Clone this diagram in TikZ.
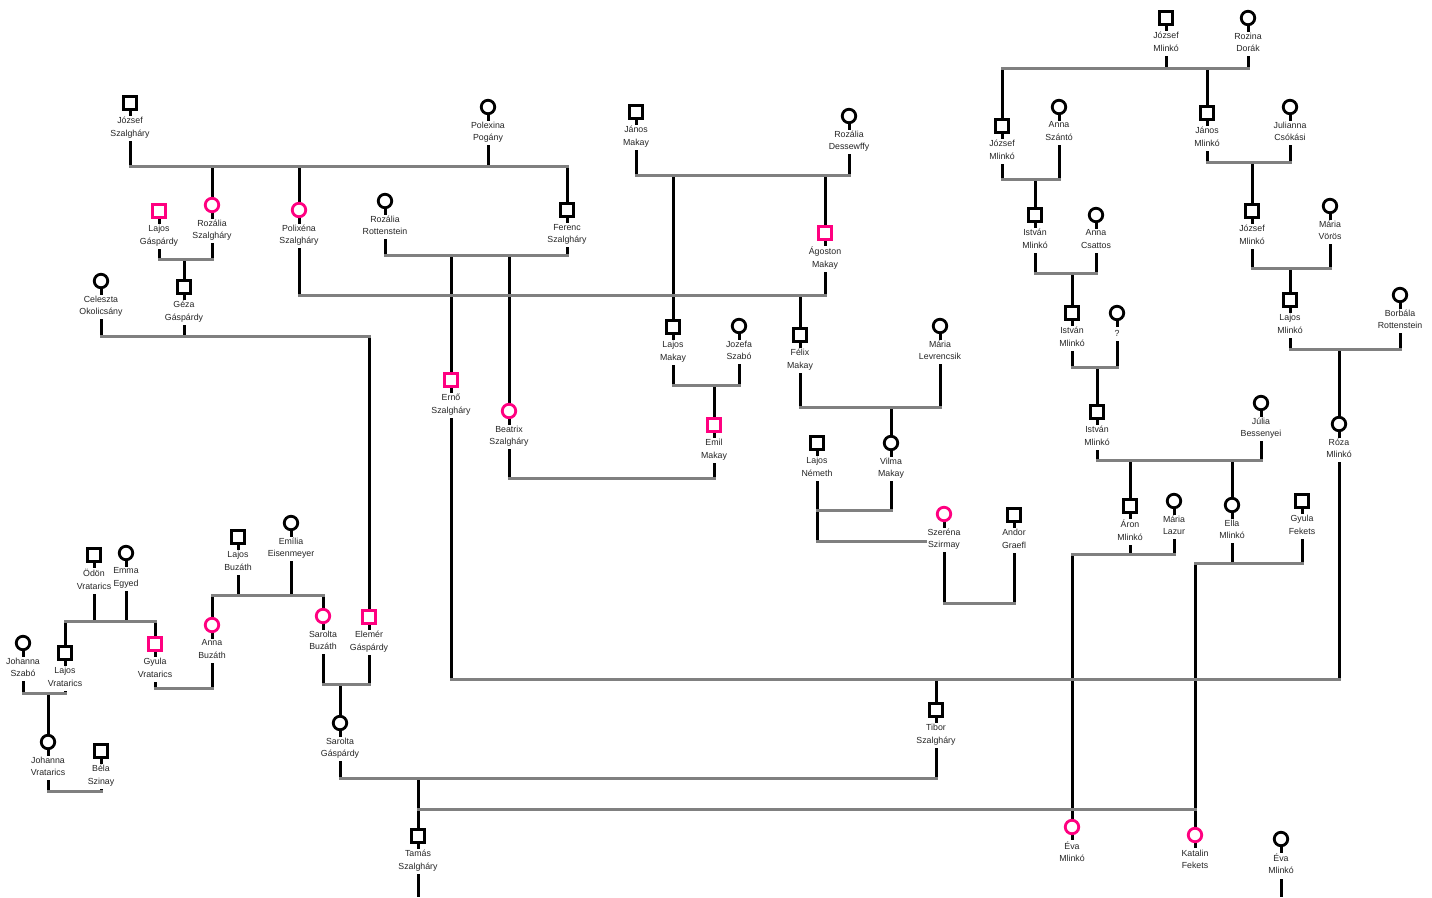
\documentclass[tikz,border=0pt]{standalone}
\usepackage{fontspec}
\setmainfont{Liberation Sans}
\usepackage{xcolor}
\usepackage{tikz}
\usetikzlibrary{positioning, backgrounds}
\definecolor{markpink}{RGB}{255,0,128}
\definecolor{uniongray}{RGB}{128,128,128}

\begin{document}
\begin{tikzpicture}[
    x=1pt, y=-1pt,
    node distance=5.3pt,
    person/.style={draw, line width=2.8pt, fill=white, inner sep=0pt},
    male/.style={person, rectangle, minimum size=12.5pt},
    female/.style={person, circle, minimum size=13.5pt},
    marked/.style={draw=markpink},
    nametag/.style={fill=white, inner sep=1pt, align=center, text=black!85,
        font=\fontsize{8.8}{12.5}\selectfont, execute at begin node=\strut},
    descent/.style={line width=3pt, black},
    union/.style={line width=3pt, uniongray, line cap=rect}
]
\useasboundingbox (0,0) rectangle (1432,897);

% Szalgháry and Makay branch
\node[male] (jozsefSz) at (130,103) {};
\node[nametag, below=of jozsefSz] (jozsefSzL) {József\\Szalgháry};
\node[female] (polexina) at (488,107) {};
\node[nametag, below=of polexina] (polexinaL) {Polexina\\Pogány};
\node[male, marked] (lajosGa) at (159,211) {};
\node[nametag, below=of lajosGa] (lajosGaL) {Lajos\\Gáspárdy};
\node[female, marked] (rozaliaSz) at (212,205) {};
\node[nametag, below=of rozaliaSz] (rozaliaSzL) {Rozália\\Szalgháry};
\node[female, marked] (polixena) at (299,210) {};
\node[nametag, below=of polixena] (polixenaL) {Polixéna\\Szalgháry};
\node[female] (rozaliaRo) at (385,201) {};
\node[nametag, below=of rozaliaRo] (rozaliaRoL) {Rozália\\Rottenstein};
\node[male] (ferencSz) at (567,210) {};
\node[nametag, below=of ferencSz] (ferencSzL) {Ferenc\\Szalgháry};
\node[male] (janosMa) at (636,112) {};
\node[nametag, below=of janosMa] (janosMaL) {János\\Makay};
\node[female] (rozaliaDe) at (849,116) {};
\node[nametag, below=of rozaliaDe] (rozaliaDeL) {Rozália\\Dessewffy};
\node[male, marked] (agoston) at (825,233) {};
\node[nametag, below=of agoston] (agostonL) {Ágoston\\Makay};
\node[female] (celeszta) at (101,281) {};
\node[nametag, below=of celeszta] (celesztaL) {Celeszta\\Okolicsány};
\node[male] (geza) at (184,287) {};
\node[nametag, below=of geza] (gezaL) {Géza\\Gáspárdy};
\node[male] (lajosMa) at (673,327) {};
\node[nametag, below=of lajosMa] (lajosMaL) {Lajos\\Makay};
\node[female] (jozefa) at (739,326) {};
\node[nametag, below=of jozefa] (jozefaL) {Jozefa\\Szabó};
\node[male] (felix) at (800,335) {};
\node[nametag, below=of felix] (felixL) {Félix\\Makay};
\node[female] (mariaLe) at (940,326) {};
\node[nametag, below=of mariaLe] (mariaLeL) {Mária\\Levrencsik};
\node[male, marked] (erno) at (451,380) {};
\node[nametag, below=of erno] (ernoL) {Ernő\\Szalgháry};
\node[female, marked] (beatrix) at (509,411) {};
\node[nametag, below=of beatrix] (beatrixL) {Beatrix\\Szalgháry};
\node[male, marked] (emil) at (714,425) {};
\node[nametag, below=of emil] (emilL) {Emil\\Makay};
\node[male] (lajosNe) at (817,443) {};
\node[nametag, below=of lajosNe] (lajosNeL) {Lajos\\Németh};
\node[female] (vilma) at (891,443) {};
\node[nametag, below=of vilma] (vilmaL) {Vilma\\Makay};
\node[female, marked] (szerena) at (944,514) {};
\node[nametag, below=of szerena] (szerenaL) {Szeréna\\Szirmay};
\node[male] (andor) at (1014,515) {};
\node[nametag, below=of andor] (andorL) {Andor\\Graefl};

% Mlinkó branch
\node[male] (jozsefMl1) at (1166,18) {};
\node[nametag, below=of jozsefMl1] (jozsefMl1L) {József\\Mlinkó};
\node[female] (rozina) at (1248,18) {};
\node[nametag, below=of rozina] (rozinaL) {Rozina\\Dorák};
\node[male] (jozsefMl2) at (1002,126) {};
\node[nametag, below=of jozsefMl2] (jozsefMl2L) {József\\Mlinkó};
\node[female] (annaSza) at (1059,107) {};
\node[nametag, below=of annaSza] (annaSzaL) {Anna\\Szántó};
\node[male] (janosMl) at (1207,113) {};
\node[nametag, below=of janosMl] (janosMlL) {János\\Mlinkó};
\node[female] (julianna) at (1290,107) {};
\node[nametag, below=of julianna] (juliannaL) {Julianna\\Csókási};
\node[male] (istvan1) at (1035,215) {};
\node[nametag, below=of istvan1] (istvan1L) {István\\Mlinkó};
\node[female] (annaCs) at (1096,215) {};
\node[nametag, below=of annaCs] (annaCsL) {Anna\\Csattos};
\node[male] (jozsefMl3) at (1252,211) {};
\node[nametag, below=of jozsefMl3] (jozsefMl3L) {József\\Mlinkó};
\node[female] (mariaVo) at (1330,206) {};
\node[nametag, below=of mariaVo] (mariaVoL) {Mária\\Vörös};
\node[male] (istvan2) at (1072,313) {};
\node[nametag, below=of istvan2] (istvan2L) {István\\Mlinkó};
\node[female] (unknown) at (1117,313) {};
\node[nametag, below=of unknown] (unknownL) {?};
\node[male] (lajosMl) at (1290,300) {};
\node[nametag, below=of lajosMl] (lajosMlL) {Lajos\\Mlinkó};
\node[female] (borbala) at (1400,295) {};
\node[nametag, below=of borbala] (borbalaL) {Borbála\\Rottenstein};
\node[male] (istvan3) at (1097,412) {};
\node[nametag, below=of istvan3] (istvan3L) {István\\Mlinkó};
\node[female] (julia) at (1261,403) {};
\node[nametag, below=of julia] (juliaL) {Júlia\\Bessenyei};
\node[female] (roza) at (1339,424) {};
\node[nametag, below=of roza] (rozaL) {Róza\\Mlinkó};
\node[male] (aron) at (1130,506) {};
\node[nametag, below=of aron] (aronL) {Áron\\Mlinkó};
\node[female] (mariaLa) at (1174,501) {};
\node[nametag, below=of mariaLa] (mariaLaL) {Mária\\Lazur};
\node[female] (ella) at (1232,505) {};
\node[nametag, below=of ella] (ellaL) {Ella\\Mlinkó};
\node[male] (gyulaFe) at (1302,501) {};
\node[nametag, below=of gyulaFe] (gyulaFeL) {Gyula\\Fekets};

% Vratarics and Buzáth branch
\node[male] (odon) at (94,555) {};
\node[nametag, below=of odon] (odonL) {Ödön\\Vratarics};
\node[female] (emma) at (126,553) {};
\node[nametag, below=of emma] (emmaL) {Emma\\Egyed};
\node[male] (lajosBu) at (238,537) {};
\node[nametag, below=of lajosBu] (lajosBuL) {Lajos\\Buzáth};
\node[female] (emilia) at (291,523) {};
\node[nametag, below=of emilia] (emiliaL) {Emília\\Eisenmeyer};
\node[female] (johannaSz) at (23,643) {};
\node[nametag, below=of johannaSz] (johannaSzL) {Johanna\\Szabó};
\node[male] (lajosVr) at (65,653) {};
\node[nametag, below=of lajosVr] (lajosVrL) {Lajos\\Vratarics};
\node[male, marked] (gyulaVr) at (155,644) {};
\node[nametag, below=of gyulaVr] (gyulaVrL) {Gyula\\Vratarics};
\node[female, marked] (annaBu) at (212,625) {};
\node[nametag, below=of annaBu] (annaBuL) {Anna\\Buzáth};
\node[female, marked] (saroltaBu) at (323,616) {};
\node[nametag, below=of saroltaBu] (saroltaBuL) {Sarolta\\Buzáth};
\node[male, marked] (elemer) at (369,617) {};
\node[nametag, below=of elemer] (elemerL) {Elemér\\Gáspárdy};
\node[female] (johannaVr) at (48,742) {};
\node[nametag, below=of johannaVr] (johannaVrL) {Johanna\\Vratarics};
\node[male] (bela) at (101,751) {};
\node[nametag, below=of bela] (belaL) {Béla\\Szinay};
\node[female] (saroltaGa) at (340,723) {};
\node[nametag, below=of saroltaGa] (saroltaGaL) {Sarolta\\Gáspárdy};

% Last generation
\node[male] (tibor) at (936,710) {};
\node[nametag, below=of tibor] (tiborL) {Tibor\\Szalgháry};
\node[male] (tamas) at (418,836) {};
\node[nametag, below=of tamas] (tamasL) {Tamás\\Szalgháry};
\node[female, marked] (eva1) at (1072,827) {};
\node[nametag, below=of eva1] (eva1L) {Éva\\Mlinkó};
\node[female, marked] (katalin) at (1195,835) {};
\node[nametag, below=of katalin] (katalinL) {Katalin\\Fekets};
\node[female] (eva2) at (1281,839) {};
\node[nametag, below=of eva2] (eva2L) {Éva\\Mlinkó};

% Levels of the family lines
\coordinate (mSzalghary) at (0,166);
\coordinate (mGaspardy) at (0,259);
\coordinate (mGeza) at (0,336);
\coordinate (mFerenc) at (0,255);
\coordinate (mMakay) at (0,175);
\coordinate (mAgoston) at (0,295);
\coordinate (mLajosMa) at (0,385);
\coordinate (mFelix) at (0,407);
\coordinate (mBeatrix) at (0,478);
\coordinate (mVilma) at (0,510);
\coordinate (mSzerena1) at (0,541);
\coordinate (mSzerena2) at (0,603);
\coordinate (mErno) at (0,679);
\coordinate (mTibor) at (0,778);
\coordinate (mTamas) at (0,809);
\coordinate (mMlinko) at (0,68);
\coordinate (mJozsefMl) at (0,179);
\coordinate (mIstvan1) at (0,273);
\coordinate (mIstvan2) at (0,367);
\coordinate (mIstvan3) at (0,460);
\coordinate (mAron) at (0,554);
\coordinate (mElla) at (0,563);
\coordinate (mJanosMl) at (0,162);
\coordinate (mJozsefMl3) at (0,268);
\coordinate (mLajosMl) at (0,349);
\coordinate (mOdon) at (0,621);
\coordinate (mLajosVr) at (0,693);
\coordinate (mJohanna) at (0,791);
\coordinate (mBuzath) at (0,595);
\coordinate (mGyulaVr) at (0,688);
\coordinate (mElemer) at (0,684);
\coordinate (bottom) at (0,897);

\begin{scope}[on background layer]
% Descent lines
\draw[descent] (jozsefSz) -- (jozsefSz |- mSzalghary) (polexina) -- (polexina |- mSzalghary)
    (rozaliaSz) -- (rozaliaSz |- mSzalghary) (polixena) -- (polixena |- mSzalghary)
    (ferencSz) -- (ferencSz |- mSzalghary);
\draw[descent] (lajosGa) -- (lajosGa |- mGaspardy) (rozaliaSz) -- (rozaliaSz |- mGaspardy)
    (geza) -- (geza |- mGaspardy);
\draw[descent] (celeszta) -- (celeszta |- mGeza) (geza) -- (geza |- mGeza) (elemer) -- (elemer |- mGeza);
\draw[descent] (rozaliaRo) -- (rozaliaRo |- mFerenc) (ferencSz) -- (ferencSz |- mFerenc)
    (erno) -- (erno |- mFerenc) (beatrix) -- (beatrix |- mFerenc);
\draw[descent] (janosMa) -- (janosMa |- mMakay) (rozaliaDe) -- (rozaliaDe |- mMakay)
    (lajosMa) -- (lajosMa |- mMakay) (agoston) -- (agoston |- mMakay);
\draw[descent] (polixena) -- (polixena |- mAgoston) (agoston) -- (agoston |- mAgoston)
    (felix) -- (felix |- mAgoston);
\draw[descent] (lajosMa) -- (lajosMa |- mLajosMa) (jozefa) -- (jozefa |- mLajosMa) (emil) -- (emil |- mLajosMa);
\draw[descent] (felix) -- (felix |- mFelix) (mariaLe) -- (mariaLe |- mFelix) (vilma) -- (vilma |- mFelix);
\draw[descent] (beatrix) -- (beatrix |- mBeatrix) (emil) -- (emil |- mBeatrix);
\draw[descent] (vilma) -- (vilma |- mVilma) (lajosNe) -- (lajosNe |- mSzerena1);
\draw[descent] (szerena) -- (szerena |- mSzerena2) (andor) -- (andor |- mSzerena2);
\draw[descent] (erno) -- (erno |- mErno) (roza) -- (roza |- mErno) (tibor) -- (tibor |- mErno);
\draw[descent] (saroltaGa) -- (saroltaGa |- mTibor) (tibor) -- (tibor |- mTibor) (tamas) -- (tamas |- mTibor);
\draw[descent] (jozsefMl1) -- (jozsefMl1 |- mMlinko) (rozina) -- (rozina |- mMlinko)
    (jozsefMl2) -- (jozsefMl2 |- mMlinko) (janosMl) -- (janosMl |- mMlinko);
\draw[descent] (jozsefMl2) -- (jozsefMl2 |- mJozsefMl) (annaSza) -- (annaSza |- mJozsefMl)
    (istvan1) -- (istvan1 |- mJozsefMl);
\draw[descent] (istvan1) -- (istvan1 |- mIstvan1) (annaCs) -- (annaCs |- mIstvan1) (istvan2) -- (istvan2 |- mIstvan1);
\draw[descent] (istvan2) -- (istvan2 |- mIstvan2) (unknown) -- (unknown |- mIstvan2) (istvan3) -- (istvan3 |- mIstvan2);
\draw[descent] (istvan3) -- (istvan3 |- mIstvan3) (julia) -- (julia |- mIstvan3)
    (aron) -- (aron |- mIstvan3) (ella) -- (ella |- mIstvan3);
\draw[descent] (aron) -- (aron |- mAron) (mariaLa) -- (mariaLa |- mAron) (eva1) -- (eva1 |- mAron);
\draw[descent] (ella) -- (ella |- mElla) (gyulaFe) -- (gyulaFe |- mElla) (katalin) -- (katalin |- mElla);
\draw[descent] (janosMl) -- (janosMl |- mJanosMl) (julianna) -- (julianna |- mJanosMl)
    (jozsefMl3) -- (jozsefMl3 |- mJanosMl);
\draw[descent] (jozsefMl3) -- (jozsefMl3 |- mJozsefMl3) (mariaVo) -- (mariaVo |- mJozsefMl3)
    (lajosMl) -- (lajosMl |- mJozsefMl3);
\draw[descent] (lajosMl) -- (lajosMl |- mLajosMl) (borbala) -- (borbala |- mLajosMl) (roza) -- (roza |- mLajosMl);
\draw[descent] (odon) -- (odon |- mOdon) (emma) -- (emma |- mOdon)
    (lajosVr) -- (lajosVr |- mOdon) (gyulaVr) -- (gyulaVr |- mOdon);
\draw[descent] (johannaSz) -- (johannaSz |- mLajosVr) (lajosVr) -- (lajosVr |- mLajosVr)
    (johannaVr) -- (johannaVr |- mLajosVr);
\draw[descent] (johannaVr) -- (johannaVr |- mJohanna) (bela) -- (bela |- mJohanna);
\draw[descent] (lajosBu) -- (lajosBu |- mBuzath) (emilia) -- (emilia |- mBuzath)
    (annaBu) -- (annaBu |- mBuzath) (saroltaBu) -- (saroltaBu |- mBuzath);
\draw[descent] (gyulaVr) -- (gyulaVr |- mGyulaVr) (annaBu) -- (annaBu |- mGyulaVr);
\draw[descent] (saroltaBu) -- (saroltaBu |- mElemer) (elemer) -- (elemer |- mElemer)
    (saroltaGa) -- (saroltaGa |- mElemer);
\draw[descent] (tamas) -- (tamas |- bottom) (eva2) -- (eva2 |- bottom);
\draw[descent] (eva1) -- (eva1L) (katalin) -- (katalinL);

% Union lines
\draw[union] (jozsefSz |- mSzalghary) -- (ferencSz |- mSzalghary);
\draw[union] (lajosGa |- mGaspardy) -- (rozaliaSz |- mGaspardy);
\draw[union] (celeszta |- mGeza) -- (elemer |- mGeza);
\draw[union] (rozaliaRo |- mFerenc) -- (ferencSz |- mFerenc);
\draw[union] (janosMa |- mMakay) -- (rozaliaDe |- mMakay);
\draw[union] (polixena |- mAgoston) -- (agoston |- mAgoston);
\draw[union] (lajosMa |- mLajosMa) -- (jozefa |- mLajosMa);
\draw[union] (felix |- mFelix) -- (mariaLe |- mFelix);
\draw[union] (beatrix |- mBeatrix) -- (emil |- mBeatrix);
\draw[union] (lajosNe |- mVilma) -- (vilma |- mVilma);
\draw[union] (lajosNe |- mSzerena1) -- (szerena |- mSzerena1);
\draw[union] (szerena |- mSzerena2) -- (andor |- mSzerena2);
\draw[union] (erno |- mErno) -- (roza |- mErno);
\draw[union] (saroltaGa |- mTibor) -- (tibor |- mTibor);
\draw[union] (tamas |- mTamas) -- (katalin |- mTamas);
\draw[union] (jozsefMl2 |- mMlinko) -- (rozina |- mMlinko);
\draw[union] (jozsefMl2 |- mJozsefMl) -- (annaSza |- mJozsefMl);
\draw[union] (istvan1 |- mIstvan1) -- (annaCs |- mIstvan1);
\draw[union] (istvan2 |- mIstvan2) -- (unknown |- mIstvan2);
\draw[union] (istvan3 |- mIstvan3) -- (julia |- mIstvan3);
\draw[union] (eva1 |- mAron) -- (mariaLa |- mAron);
\draw[union] (katalin |- mElla) -- (gyulaFe |- mElla);
\draw[union] (janosMl |- mJanosMl) -- (julianna |- mJanosMl);
\draw[union] (jozsefMl3 |- mJozsefMl3) -- (mariaVo |- mJozsefMl3);
\draw[union] (lajosMl |- mLajosMl) -- (borbala |- mLajosMl);
\draw[union] (lajosVr |- mOdon) -- (gyulaVr |- mOdon);
\draw[union] (johannaSz |- mLajosVr) -- (lajosVr |- mLajosVr);
\draw[union] (johannaVr |- mJohanna) -- (bela |- mJohanna);
\draw[union] (annaBu |- mBuzath) -- (saroltaBu |- mBuzath);
\draw[union] (gyulaVr |- mGyulaVr) -- (annaBu |- mGyulaVr);
\draw[union] (saroltaBu |- mElemer) -- (elemer |- mElemer);
\end{scope}

\end{tikzpicture}
\end{document}
